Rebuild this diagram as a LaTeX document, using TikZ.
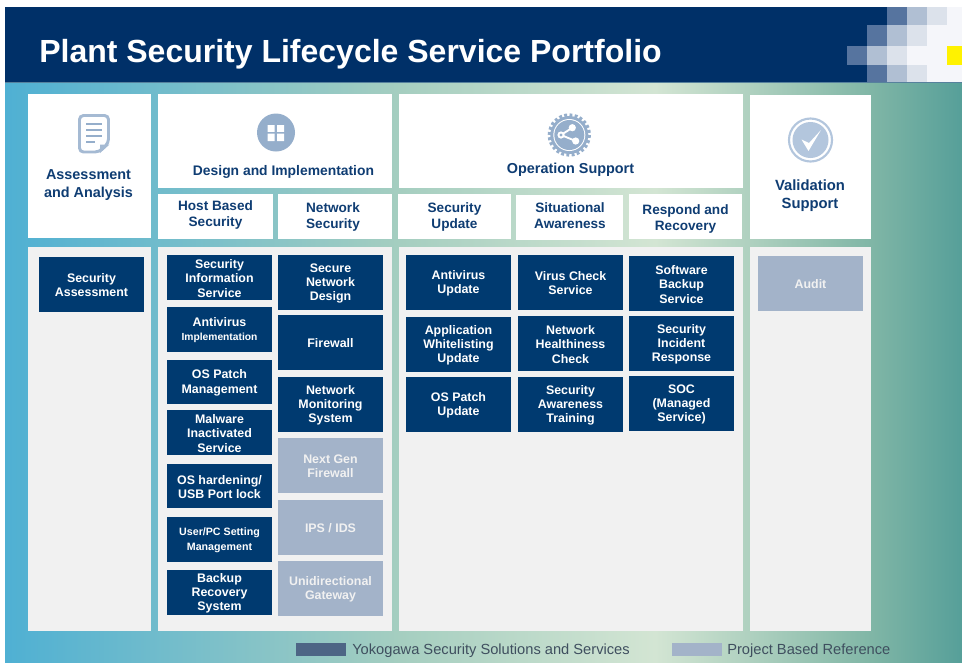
\documentclass[tikz,border=0pt]{standalone}
\usepackage{fontspec}
\setmainfont{Liberation Sans}
\definecolor{bandnavy}{HTML}{003068}
\definecolor{tilenavy}{HTML}{003A70}
\definecolor{tilepale}{HTML}{A3B3C9}
\definecolor{panelgray}{HTML}{F1F1F1}
\definecolor{headblue}{HTML}{0F3D73}
\definecolor{iconblue}{HTML}{95AECB}
\definecolor{iconpale}{HTML}{B3C6DD}
\definecolor{bgleft}{HTML}{4FB0D3}
\definecolor{bgtwo}{HTML}{A5CEC0}
\definecolor{bgmid}{HTML}{D3E5D3}
\definecolor{bgfour}{HTML}{80B6A6}
\definecolor{bgright}{HTML}{569F99}
\definecolor{legendtext}{HTML}{3F4F5F}
\definecolor{mosaicA}{HTML}{56749F}
\definecolor{mosaicB}{HTML}{B0BFD3}
\definecolor{mosaicC}{HTML}{DCE2EB}
\definecolor{mosaicD}{HTML}{F5F6FA}
\pgfdeclarehorizontalshading{bgwash}{100bp}{color(0bp)=(bgleft); color(25bp)=(bgleft); color(45.64bp)=(bgtwo); color(58.96bp)=(bgmid); color(70.25bp)=(bgfour); color(75bp)=(bgright); color(100bp)=(bgright)}
\tikzset{
  whitebox/.style={fill=white},
  panelbox/.style={fill=panelgray},
  darktile/.style={fill=tilenavy,text=white,font=\fontsize{9.3}{10.7}\selectfont\bfseries},
  paletile/.style={fill=tilepale,text=panelgray,font=\fontsize{9.3}{10.7}\selectfont\bfseries},
  headtext/.style={text=headblue,align=center,inner sep=0pt,font=\fontsize{10.8}{12.8}\selectfont\bfseries},
  subtext/.style={text=headblue,align=center,inner sep=0pt,font=\fontsize{10.2}{12}\selectfont\bfseries},
  legendlabel/.style={text=legendtext,anchor=west,inner sep=0pt,font=\fontsize{11}{13}\selectfont}
}
\newcommand\tinyline{\fontsize{7.7}{10}\selectfont}
\begin{document}
\begin{tikzpicture}[x=0.75pt,y=-0.75pt]
\useasboundingbox (0,0) rectangle (962,662);
\newcommand\tile[7]{
\node[#2,inner sep=0pt,minimum width={#5*0.75pt},minimum height={#6*0.75pt}] (#1) at ({#3+#5/2},{#4+#6/2}) {};
\node[#2,fill=none,inner sep=0pt,align=center] (#1label) at ([yshift=-0.6pt]#1.center) {#7};
}
% background and title band
\shade[shading=bgwash] (5,82) rectangle (962,662);
\fill[bandnavy] (5,7) rectangle (962,82);
\fill[mosaicA!70!bgright] (5,82) rectangle (962,83);
\node[text=white,anchor=west,inner sep=0pt,font=\fontsize{24}{28}\selectfont\bfseries] (title) at (39,54.5) {Plant Security Lifecycle Service Portfolio};
% mosaic in the corner
\fill[mosaicA] (887,7) rectangle (907,25);
\fill[mosaicB] (907,7) rectangle (927,25);
\fill[mosaicC] (927,7) rectangle (947,25);
\fill[mosaicD] (947,7) rectangle (962,25);
\fill[mosaicA] (867,25) rectangle (887,46);
\fill[mosaicB] (887,25) rectangle (907,46);
\fill[mosaicC] (907,25) rectangle (927,46);
\fill[mosaicD] (927,25) rectangle (962,46);
\fill[mosaicA] (847,46) rectangle (867,65);
\fill[mosaicB] (867,46) rectangle (887,65);
\fill[mosaicC] (887,46) rectangle (907,65);
\fill[mosaicD] (907,46) rectangle (947,65);
\fill[yellow] (947,46) rectangle (962,65);
\fill[mosaicA] (867,65) rectangle (887,82);
\fill[mosaicB] (887,65) rectangle (907,82);
\fill[mosaicC] (907,65) rectangle (927,82);
\fill[mosaicD] (927,65) rectangle (962,82);
% head boxes
\tile{assess}{whitebox}{28}{94}{123}{144}{}
\tile{design}{whitebox}{158}{94}{234}{94}{}
\tile{operation}{whitebox}{399}{94}{344}{94}{}
\tile{validation}{whitebox}{750}{95}{121}{144}{}
\tile{host}{whitebox}{158}{194}{115}{45}{}
\tile{network}{whitebox}{278}{194}{114}{45}{}
\tile{update}{whitebox}{398}{194}{113}{45}{}
\tile{aware}{whitebox}{516}{195}{107}{45}{}
\tile{respond}{whitebox}{629}{194}{113}{45}{}
\node[headtext] (assesstext) at (88.5,185) {Assessment\\and Analysis};
\node[headtext,font=\fontsize{10.4}{13}\selectfont\bfseries] (designtext) at (283.5,172) {Design and Implementation};
\node[headtext] (operationtext) at (570.5,169.5) {Operation Support};
\node[headtext,font=\fontsize{11.1}{13.6}\selectfont\bfseries] (validationtext) at (810,195.5) {Validation\\Support};
\node[subtext] (hosttext) at (215.5,215) {Host Based\\Security};
\node[subtext] (networktext) at (333,216.5) {Network\\Security};
\node[subtext] (updatetext) at (454.5,216.5) {Security\\Update};
\node[subtext] (awaretext) at (570,215.5) {Situational\\Awareness};
\node[subtext] (respondtext) at (685.5,218.5) {Respond and\\Recovery};
% icons
\draw[iconblue!85!white,line width=2.2pt,rounded corners=3pt] (79.5,115.5) -- (108.5,115.5) -- (108.5,143) -- (99,152) -- (79.5,152) -- cycle;
\fill[iconblue!85!white] (100,153) -- (100,144.5) -- (109.5,144.5) -- cycle;
\draw[iconblue,line width=1.2pt] (86,124) -- (102,124) (86,130) -- (102,130) (86,136) -- (102,136) (86,142) -- (95,142);
\fill[iconblue] (276,132.5) circle (19);
\fill[white] (267.7,125) rectangle (274.5,131.8) (277,125) rectangle (284,131.8) (267.7,133.5) rectangle (274.5,141) (277,133.5) rectangle (284,141);
\draw[iconblue,line width=3.2pt,dash pattern=on 2.1pt off 1.73pt] (569.3,135) circle (19.5);
\fill[iconblue] (569.3,135) circle (19);
\fill[white] (569.3,135) circle (16);
\fill[iconblue] (569.3,135) circle (15);
\draw[white,line width=1.4pt] (561,135) -- (572.3,127.7) (561,135) -- (575.7,141);
\fill[white] (572.3,127.7) circle (3.6) (575.7,141) circle (3.6) (561,135) circle (3.6);
\fill[iconblue] (561,135) circle (1.6);
\draw[iconpale,line width=1.6pt] (810.5,140) circle (21.5);
\fill[iconpale] (810.5,140) circle (18);
\fill[white] (801.5,139.5) -- (809,143) -- (821,130) -- (808.5,151) -- cycle;
% panels
\tile{assesspanel}{panelbox}{28}{247}{123}{384}{}
\tile{designpanel}{panelbox}{158}{247}{234}{384}{}
\tile{operationpanel}{panelbox}{399}{247}{344}{384}{}
\tile{validationpanel}{panelbox}{750}{247}{121}{384}{}
% assessment
\tile{secassess}{darktile}{39}{257}{105}{55}{Security\\Assessment}
% host based
\tile{secinfo}{darktile}{167}{255}{105}{45}{Security\\Information\\Service}
\tile{antivirus}{darktile}{167}{307}{105}{45}{Antivirus\\{\tinyline Implementation}}
\tile{ospatch}{darktile}{167}{360}{105}{44}{OS Patch\\Management}
\tile{malware}{darktile}{167}{410}{105}{45}{Malware\\Inactivated\\Service}
\tile{hardening}{darktile}{167}{464}{105}{44}{OS hardening/\\USB Port lock}
\tile{userpc}{darktile}{167}{517}{105}{45}{{\fontsize{8}{10}\selectfont User/PC Setting}\\{\fontsize{8}{10}\selectfont Management}}
\tile{backup}{darktile}{167}{570}{105}{45}{Backup\\Recovery\\System}
% network
\tile{securenet}{darktile}{278}{255}{105}{55}{Secure\\Network\\Design}
\tile{firewall}{darktile}{278}{315}{105}{55}{Firewall}
\tile{netmon}{darktile}{278}{377}{105}{55}{Network\\Monitoring\\System}
\tile{nextgen}{paletile}{278}{438}{105}{55}{Next Gen\\Firewall}
\tile{ipsids}{paletile}{278}{500}{105}{55}{IPS / IDS}
\tile{unidir}{paletile}{278}{561}{105}{55}{Unidirectional\\Gateway}
% operation
\tile{avupdate}{darktile}{406}{255}{105}{55}{Antivirus\\Update}
\tile{whitelist}{darktile}{406}{317}{105}{55}{Application\\Whitelisting\\Update}
\tile{osupdate}{darktile}{406}{377}{105}{55}{OS Patch\\Update}
\tile{viruscheck}{darktile}{518}{255}{105}{55}{Virus Check\\Service}
\tile{nethealth}{darktile}{518}{316}{105}{55}{Network\\Healthiness\\Check}
\tile{training}{darktile}{518}{377}{105}{55}{Security\\Awareness\\Training}
\tile{swbackup}{darktile}{629}{256}{105}{55}{Software\\Backup\\Service}
\tile{incident}{darktile}{629}{316}{105}{55}{Security\\Incident\\Response}
\tile{soc}{darktile}{629}{376}{105}{55}{SOC\\(Managed\\Service)}
% validation
\tile{audit}{paletile}{758}{256}{105}{55}{Audit}
% legend
\fill[mosaicA!60!legendtext] (296,643) rectangle (346,656);
\fill[tilepale] (672,643) rectangle (722,656);
\node[legendlabel] (legenddark) at (352,651) {Yokogawa Security Solutions and Services};
\node[legendlabel] (legendpale) at (727,651) {Project Based Reference};
\end{tikzpicture}
\end{document}
